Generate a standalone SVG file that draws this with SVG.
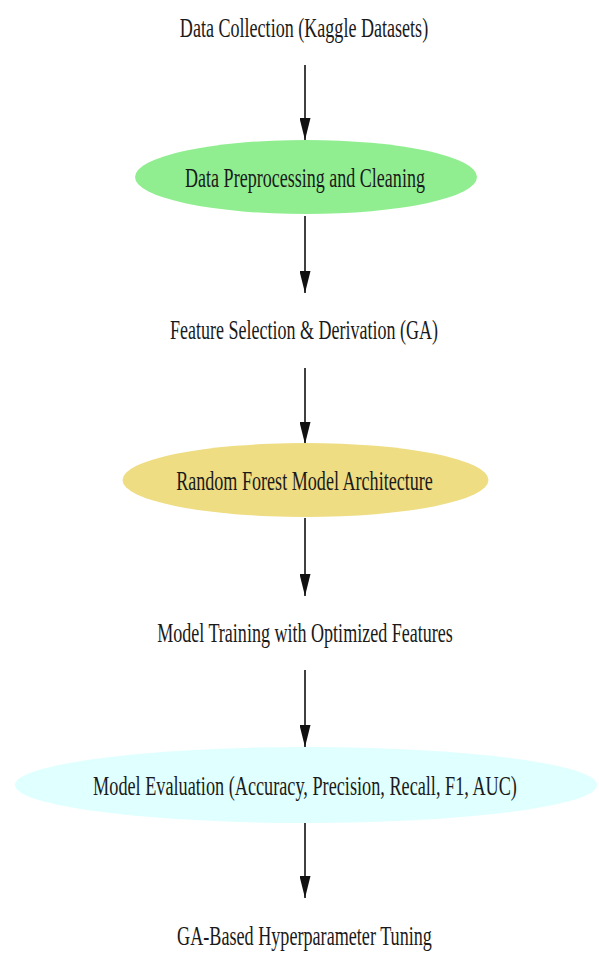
<svg xmlns="http://www.w3.org/2000/svg" width="599" height="977" viewBox="0 0 599 977">
  <style>
    .lbl { font-family: "Liberation Serif", "Times New Roman", serif; font-size: 28px; fill: #1a1a1a; text-anchor: middle; }
    .edge { stroke: #111; stroke-width: 1.6; fill: none; }
  </style>
  <defs>
    <marker id="arrow" markerWidth="22" markerHeight="11" refX="22" refY="5.5" orient="auto" markerUnits="userSpaceOnUse" viewBox="0 0 22 11">
      <path d="M0,0 L22,5.5 L0,11 Z" fill="#111"/>
    </marker>
  </defs>
  <rect width="599" height="977" fill="#ffffff"/>

  <g id="connectors">
    <line class="edge" x1="305" y1="65" x2="305" y2="140" marker-end="url(#arrow)"/>
    <line class="edge" x1="305" y1="216" x2="305" y2="293" marker-end="url(#arrow)"/>
    <line class="edge" x1="305" y1="368" x2="305" y2="444" marker-end="url(#arrow)"/>
    <line class="edge" x1="305" y1="518" x2="305" y2="596" marker-end="url(#arrow)"/>
    <line class="edge" x1="305" y1="670" x2="305" y2="747" marker-end="url(#arrow)"/>
    <line class="edge" x1="305" y1="823" x2="305" y2="898" marker-end="url(#arrow)"/>
  </g>

  <!-- labels are set in a condensed serif: horizontal scale 0.65 -->
  <g id="data-collection">
    <text class="lbl" transform="translate(304,37) scale(0.65,1)" textLength="382" lengthAdjust="spacingAndGlyphs">Data Collection (Kaggle Datasets)</text>
  </g>
  <g id="preprocessing">
    <ellipse cx="306" cy="177" rx="171" ry="37" fill="#90ee90"/>
    <text class="lbl" transform="translate(305,187) scale(0.65,1)" textLength="369" lengthAdjust="spacingAndGlyphs">Data Preprocessing and Cleaning</text>
  </g>
  <g id="feature-selection">
    <text class="lbl" transform="translate(304,339) scale(0.65,1)" textLength="412" lengthAdjust="spacingAndGlyphs">Feature Selection &amp; Derivation (GA)</text>
  </g>
  <g id="random-forest">
    <ellipse cx="305.5" cy="480" rx="183" ry="37" fill="#eedd82"/>
    <text class="lbl" transform="translate(304.5,490) scale(0.65,1)" textLength="395" lengthAdjust="spacingAndGlyphs">Random Forest Model Architecture</text>
  </g>
  <g id="model-training">
    <text class="lbl" transform="translate(305,642) scale(0.65,1)" textLength="455" lengthAdjust="spacingAndGlyphs">Model Training with Optimized Features</text>
  </g>
  <g id="model-evaluation">
    <ellipse cx="306" cy="785" rx="291" ry="38" fill="#e0ffff"/>
    <text class="lbl" transform="translate(305,795) scale(0.65,1)" textLength="652" lengthAdjust="spacingAndGlyphs">Model Evaluation (Accuracy, Precision, Recall, F1, AUC)</text>
  </g>
  <g id="hyperparameter-tuning">
    <text class="lbl" transform="translate(304.5,945) scale(0.65,1)" textLength="392" lengthAdjust="spacingAndGlyphs">GA-Based Hyperparameter Tuning</text>
  </g>
</svg>
